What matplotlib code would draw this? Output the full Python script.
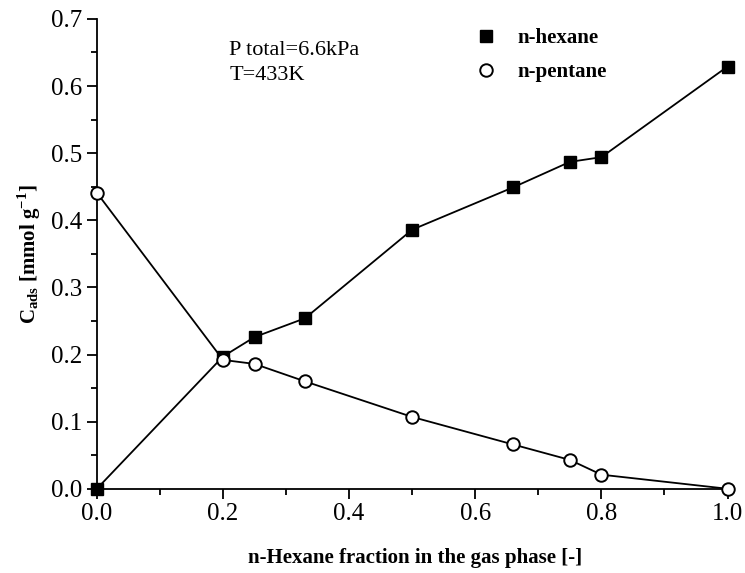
import numpy as np
import matplotlib.pyplot as plt
from matplotlib.ticker import MultipleLocator

plt.rcParams['font.family'] = ['Liberation Serif', 'DejaVu Serif']
plt.rcParams['mathtext.fontset'] = 'custom'
plt.rcParams['mathtext.rm'] = 'Liberation Serif'
plt.rcParams['mathtext.bf'] = 'Liberation Serif:bold'

# hexane fraction in gas phase
x_frac = [0.0, 0.2, 0.25, 0.33, 0.5, 0.66, 0.75, 0.8, 1.0]
# adsorbed amounts, mmol/g
hexane = [0.0, 0.197, 0.226, 0.254, 0.386, 0.449, 0.487, 0.494, 0.629]
pentane = [0.441, 0.192, 0.186, 0.160, 0.107, 0.066, 0.043, 0.021, 0.0]

fig = plt.figure(figsize=(7.45, 5.73), dpi=100)
ax = fig.add_axes([0.130, 0.147, 0.855, 0.820])

ax.plot(x_frac, hexane, 'k-', lw=1.3, zorder=2, clip_on=False)
ax.plot(x_frac, pentane, 'k-', lw=1.3, zorder=2, clip_on=False)
ax.plot(x_frac, hexane, 's', color='k', ms=8.5, ls='none', label='n-hexane',
        zorder=3, clip_on=False)
ax.plot(x_frac, pentane, 'o', mfc='white', mec='k', mew=1.4, ms=9, ls='none',
        label='n-pentane', zorder=3, clip_on=False)

ax.set_xlim(0, 1.01)
ax.set_ylim(0, 0.7)
ax.xaxis.set_major_locator(MultipleLocator(0.2))
ax.xaxis.set_minor_locator(MultipleLocator(0.1))
ax.yaxis.set_major_locator(MultipleLocator(0.1))
ax.yaxis.set_minor_locator(MultipleLocator(0.05))
ax.xaxis.set_major_formatter(plt.FormatStrFormatter('%.1f'))
ax.yaxis.set_major_formatter(plt.FormatStrFormatter('%.1f'))
ax.tick_params(which='both', direction='out', width=1.3, labelsize=18)
ax.tick_params(which='major', length=7)
ax.tick_params(which='minor', length=4)
ax.spines['top'].set_visible(False)
ax.spines['right'].set_visible(False)
ax.spines['left'].set_linewidth(1.3)
ax.spines['bottom'].set_linewidth(1.3)
for sp in ('left', 'bottom'):
    ax.spines[sp].set_zorder(1)

ax.set_xlabel('n-Hexane fraction in the gas phase [-]', fontsize=15,
              fontweight='bold', labelpad=16)
ax.set_ylabel(r'$\mathbf{C_{ads}}$ [mmol g$^{\mathbf{-1}}$]', fontsize=15,
              fontweight='bold', labelpad=6)

ax.text(0.21, 0.667, 'P total=6.6kPa\nT=433K', fontsize=16,
        va='top', ha='left', linespacing=1.45)

leg = ax.legend(loc='upper left', bbox_to_anchor=(0.5625, 1.02), frameon=False,
                prop={'weight': 'bold', 'size': 15}, handlelength=1.2,
                handletextpad=0.9, labelspacing=0.65)

plt.savefig('out.png', dpi=100)
